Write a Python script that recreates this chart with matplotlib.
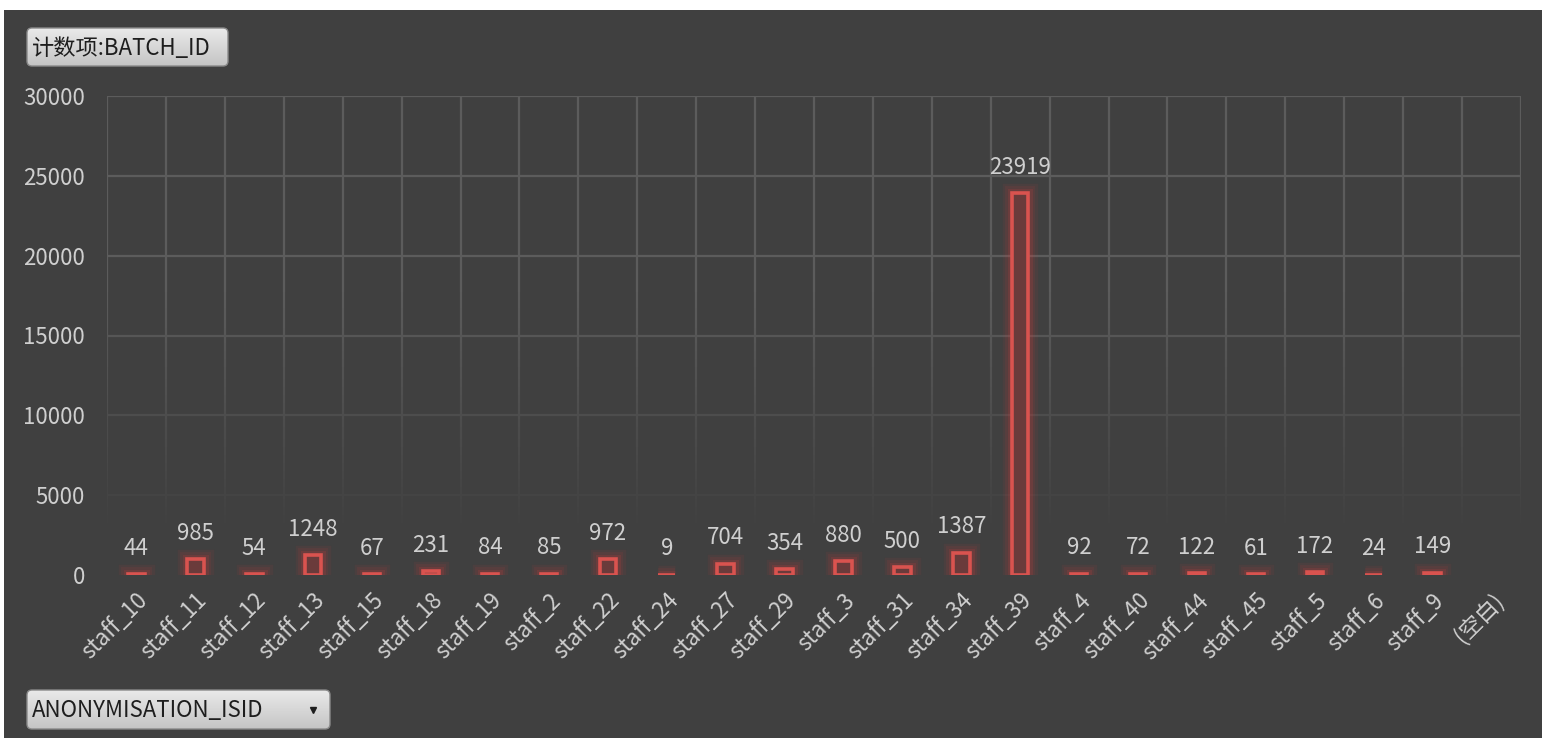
import matplotlib
matplotlib.use("Agg")
import matplotlib.pyplot as plt
from matplotlib.patches import FancyBboxPatch, Rectangle
from matplotlib.collections import LineCollection
import numpy as np

categories = ["staff_10", "staff_11", "staff_12", "staff_13", "staff_15", "staff_18",
              "staff_19", "staff_2", "staff_22", "staff_24", "staff_27", "staff_29",
              "staff_3", "staff_31", "staff_34", "staff_39", "staff_4", "staff_40",
              "staff_44", "staff_45", "staff_5", "staff_6", "staff_9", "(空白)"]
values = [44, 985, 54, 1248, 67, 231, 84, 85, 972, 9, 704, 354, 880, 500, 1387,
          23919, 92, 72, 122, 61, 172, 24, 149, None]
yticks = [0, 5000, 10000, 15000, 20000, 25000, 30000]

plt.rcParams['font.family'] = ['Noto Sans CJK SC', 'DejaVu Sans']
FS = 16

W, H = 1542, 738
fig = plt.figure(figsize=(W / 100, H / 100), dpi=100, facecolor='white')
fig.patches.append(Rectangle((4 / W, 0), 1, 1 - 10 / H, transform=fig.transFigure,
                             facecolor='#404040', edgecolor='none', zorder=-10))

ax = fig.add_axes([107 / W, 1 - 575 / H, (1521 - 107) / W, (575 - 96) / H])
ax.set_facecolor('none')
n = len(categories)
x = np.arange(n)
ax.set_xlim(-0.5, n - 0.5)
ax.set_ylim(0, 30000)

bg = np.array([0x40, 0x40, 0x40]) / 255
gl = np.array([0x5c, 0x5c, 0x5c]) / 255

def fade(y):
    a = np.clip((y - 3000) / 15000, 0, 1)
    return tuple(bg + (gl - bg) * a)

# grid (fading toward the bottom)
ys = np.linspace(0, 30000, 121)
segs, cols = [], []
for b in np.arange(n + 1) - 0.5:
    for y0, y1 in zip(ys[:-1], ys[1:]):
        segs.append([(b, y0), (b, y1)])
        cols.append(fade((y0 + y1) / 2))
ax.add_collection(LineCollection(segs, colors=cols, linewidths=1.6, zorder=0))
for t in yticks[1:]:
    ax.axhline(t, color=fade(t), lw=1.6, zorder=0)

vals = [v if v is not None else 0 for v in values]
mask = [v is not None for v in values]
xs = x[mask]
vs = np.array(vals)[mask]

# glow
for lw, a in [(14, 0.07), (10, 0.09), (6.5, 0.14)]:
    ax.bar(xs, vs, width=0.28, facecolor='none', edgecolor='#e03a3a', linewidth=lw,
           alpha=a, zorder=2)
ax.bar(xs, vs, width=0.28, facecolor='#6a3b3b', edgecolor='#d9534f', linewidth=2.6,
       zorder=3)

for xi, v in zip(xs, vs):
    ax.text(xi, v + 900, f"{v}", ha='center', va='bottom', color='#cfcfcf',
            fontsize=FS, zorder=4)

ax.set_yticks(yticks)
ax.set_yticklabels([str(t) for t in yticks])
ax.set_xticks(x)
ax.set_xticklabels(categories, rotation=45, ha='right', rotation_mode='anchor')
ax.tick_params(axis='both', length=0, colors='#cfcfcf', labelsize=FS)
ax.tick_params(axis='y', pad=16)
ax.tick_params(axis='x', pad=10)
for s in ax.spines.values():
    s.set_visible(False)

# overlay for buttons
ov = fig.add_axes([0, 0, 1, 1], zorder=10)
ov.set_xlim(0, W)
ov.set_ylim(H, 0)
ov.axis('off')
ov.patch.set_alpha(0)

grad = np.linspace(0, 1, 64).reshape(-1, 1)
top_c = np.array([0xea, 0xea, 0xea]) / 255
bot_c = np.array([0xc4, 0xc4, 0xc4]) / 255
img = top_c + (bot_c - top_c) * grad[..., None]
img = np.repeat(img, 2, axis=1)

def button(x0, y0, x1, y1, text, arrow=False):
    p = FancyBboxPatch((x0, y0), x1 - x0, y1 - y0,
                       boxstyle="round,pad=0,rounding_size=5",
                       facecolor='none', edgecolor='#8a8a8a', linewidth=1, zorder=6)
    ov.add_patch(p)
    im = ov.imshow(img, extent=(x0, x1, y1, y0), aspect='auto', zorder=5,
                   interpolation='bilinear')
    im.set_clip_path(p)
    ov.text(x0 + 5, (y0 + y1) / 2 + 1, text, ha='left', va='center',
            color='#1e1e1e', fontsize=FS, zorder=7)
    if arrow:
        ov.plot([x1 - 17], [(y0 + y1) / 2], marker='v', color='#1e1e1e',
                markersize=5, zorder=7)

button(27, 28, 228, 66, "计数项:BATCH_ID")
button(27, 690, 330, 729, "ANONYMISATION_ISID", arrow=True)
ov.set_xlim(0, W)
ov.set_ylim(H, 0)

fig.savefig("out.png", dpi=100, facecolor=fig.get_facecolor())
